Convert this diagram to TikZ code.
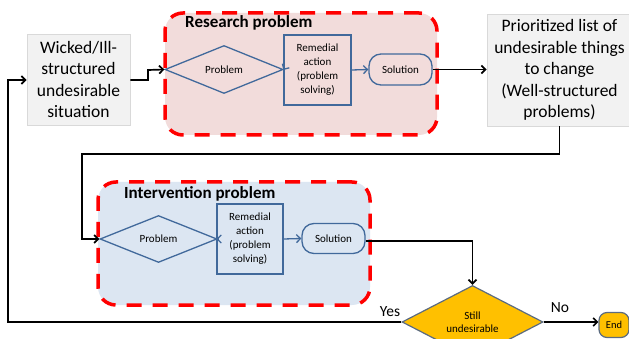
\documentclass[tikz,border=0pt]{standalone}
\usepackage{fontspec}
\setmainfont{Carlito}
\usetikzlibrary{shapes.geometric,arrows.meta}
\definecolor{pinkfill}{HTML}{F2DCDB}
\definecolor{bluefill}{HTML}{DCE6F2}
\definecolor{bstroke}{HTML}{41699B}
\definecolor{grayfill}{HTML}{F2F2F2}
\definecolor{grayline}{HTML}{D9D9D9}
\definecolor{gold}{HTML}{FFC000}
\definecolor{goldline}{HTML}{5B6B80}
\tikzset{
  bigbox/.style={rectangle, fill=grayfill, draw=grayline, line width=0.8pt, align=center,
    font=\fontsize{17.5}{21.5}\selectfont, inner sep=0pt},
  container/.style={rectangle, rounded corners=18pt, draw=red, line width=3.5pt,
    dash pattern=on 15pt off 11pt, inner sep=0pt},
  probdia/.style={diamond, draw=bstroke, line width=1.3pt, inner sep=0pt,
    font=\fontsize{11}{13.5}\selectfont},
  actbox/.style={rectangle, draw=bstroke, line width=1.3pt, align=center, inner sep=0pt,
    font=\fontsize{11}{14}\selectfont},
  solbox/.style={rectangle, rounded corners=12pt, draw=bstroke, line width=1.3pt, inner sep=0pt,
    font=\fontsize{11}{13.5}\selectfont},
  bluearrow/.style={draw=bstroke, line width=1.3pt, -{Straight Barb[length=4pt,width=8pt]}},
  blackline/.style={draw=black, line width=1.7pt},
  blackarrow/.style={blackline, -{Straight Barb[length=4pt,width=8pt]}},
  title/.style={anchor=west, font=\bfseries\fontsize{17}{20}\selectfont, inner sep=0pt},
  ansl/.style={font=\fontsize{15.5}{18}\selectfont, inner sep=0pt}
}
\begin{document}
\begin{tikzpicture}[x=1pt,y=-1pt]
\clip (0,0) rectangle (629,339);
\useasboundingbox (0,0) rectangle (629,339);
\fill[white] (0,0) rectangle (629,339);

% containers
\node[container, fill=pinkfill, minimum width=272pt, minimum height=122pt] (rc) at (301,74) {};
\node[container, fill=bluefill, minimum width=272pt, minimum height=123pt] (ic) at (234,243.5) {};
\node[title] (rt) at (185,23) {Research problem};
\node[title] (it) at (124,194) {Intervention problem};

% top row
\node[bigbox, minimum width=103pt, minimum height=91pt] (wk) at (78.5,79.5)
  {Wicked/Ill-\\structured\\undesirable\\situation};
\node[probdia, minimum width=118pt, minimum height=48pt] (p1) at (224,69.5) {Problem};
\node[actbox, minimum width=67pt, minimum height=70pt] (r1) at (317.5,70)
  {Remedial\\action\\(problem\\solving)};
\node[solbox, minimum width=63pt, minimum height=31pt] (s1) at (400.5,69.5) {Solution};
\node[bigbox, minimum width=145pt, minimum height=112pt] (pl) at (559.5,70)
  {Prioritized list of\\undesirable things\\to change\\(Well-structured\\problems)};

% bottom row
\node[probdia, minimum width=117pt, minimum height=47pt] (p2) at (158.5,239) {Problem};
\node[actbox, minimum width=66pt, minimum height=70pt] (r2) at (250,239)
  {Remedial\\action\\(problem\\solving)};
\node[solbox, minimum width=63pt, minimum height=30pt] (s2) at (333.5,238.5) {Solution};

% decision
\node[diamond, fill=gold, draw=goldline, line width=1.2pt, inner sep=0pt,
  minimum width=141pt, minimum height=44pt, align=center,
  font=\fontsize{11}{13}\selectfont] (sd) at (472.5,322) {Still\\undesirable};
\node[rectangle, rounded corners=8pt, fill=gold, draw=goldline, line width=1.2pt,
  inner sep=0pt, minimum width=30pt, minimum height=25pt,
  font=\fontsize{10.5}{12}\selectfont] (en) at (614,325) {End};

% blue arrows
\draw[bluearrow] (p1.east) -- (r1.west);
\draw[bluearrow] (r1.east) -- (s1.west);
\draw[bluearrow] (p2.east) -- (r2.west);
\draw[bluearrow] (r2.east) -- (s2.west);

% black connectors
\coordinate (k1) at (148,80);
\coordinate (k2) at (148,70);
\draw[blackarrow] (wk.east |- k1) -- (k1) -- (k2) -- (p1.west);
\draw[blackarrow] (s1.east) -- (pl.west |- s1.east);
\coordinate (t1) at (559.5,154);
\coordinate (t2) at (82,154);
\draw[blackarrow] (pl.south) -- (t1) -- (t2) |- (p2.west);
\coordinate (u1) at (472.5,241);
\draw[blackarrow] (s2.east |- u1) -- (u1) -- (sd.north);
\coordinate (y1) at (8,322);
\coordinate (y2) at (8,80);
\draw[blackarrow] (sd.west) -- (y1) -- (y2) -- (wk.west |- y2);
\draw[blackarrow] (sd.east) -- (en.west |- sd.east);

\node[ansl] (yes) at (390,312) {Yes};
\node[ansl] (no) at (560,308) {No};
\end{tikzpicture}
\end{document}
